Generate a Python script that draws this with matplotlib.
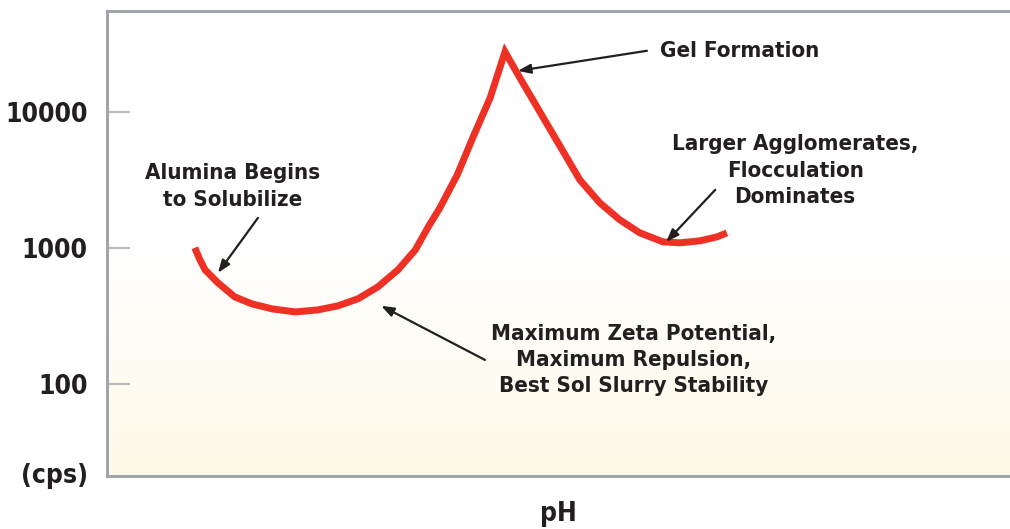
import numpy as np
import matplotlib.pyplot as plt
from matplotlib import font_manager as fm
from matplotlib.colors import LinearSegmentedColormap

# pick a narrow bold face if one is installed
faces = {(f.name, f.stretch) for f in fm.fontManager.ttflist}
names = {f.name for f in fm.fontManager.ttflist}
if 'Liberation Sans Narrow' in names:
    fam, stretch = 'Liberation Sans Narrow', 'normal'
elif ('DejaVu Sans', 'condensed') in faces:
    fam, stretch = 'DejaVu Sans', 'condensed'
else:
    fam, stretch = 'Liberation Sans', 'normal'
plt.rcParams['font.family'] = [fam, 'DejaVu Sans']
plt.rcParams['font.stretch'] = stretch
plt.rcParams['font.weight'] = 'bold'

# viscosity curve (pH, cps)
ph = [1.36, 1.44, 1.52, 1.72, 1.98, 2.25, 2.56, 2.92, 3.27, 3.58, 3.89, 4.20, 4.51,
      4.78, 4.98, 5.16, 5.43, 5.67, 5.94, 6.17, 6.40, 6.71, 7.02, 7.33, 7.64,
      7.95, 8.26, 8.62, 8.88, 9.19, 9.46, 9.61]
cps = [1000, 816, 689, 553, 436, 387, 356, 338, 350, 375, 422, 517, 689,
       967, 1427, 1968, 3443, 6440, 12680, 27620, 17780, 10000, 5623, 3162, 2143,
       1607, 1289, 1107, 1089, 1126, 1205, 1289]

yticks = [100, 1000, 10000]
ytick_labels = ['100', '1000', '10000']

# annotation texts, text anchor, arrow tail, arrow head
notes = ['Gel Formation',
         'Alumina Begins\nto Solubilize',
         'Larger Agglomerates,\nFlocculation\nDominates',
         'Maximum Zeta Potential,\nMaximum Repulsion,\nBest Sol Slurry Stability']
note_xy = [(9.81, 28100), (1.94, 2832), (10.67, 3683), (8.17, 150)]
arrow_tail = [(8.37, 28100), (2.34, 1662), (9.43, 2670), (5.86, 150)]
arrow_head = [(6.37, 20000), (1.72, 655), (8.67, 1107), (4.25, 375)]

fig = plt.figure(figsize=(10.1, 5.29), dpi=100)
ax = fig.add_axes([0.106, 0.100, 0.894, 0.879])

# background: white at top fading to cream at the bottom
cmap = LinearSegmentedColormap.from_list('bg', [(0, '#fef9e8'), (0.5, '#ffffff'), (1, '#ffffff')])
grad = np.linspace(0, 1, 256).reshape(-1, 1)
ax.imshow(grad, cmap=cmap, aspect='auto', origin='lower',
          extent=[0, 1, 0, 1], transform=ax.transAxes, zorder=0)

ax.plot(ph, cps, color='#ee3124', lw=5, solid_joinstyle='miter',
        solid_capstyle='butt', zorder=3)

for t, xy, tail, head in zip(notes, note_xy, arrow_tail, arrow_head):
    ax.text(xy[0], xy[1], t, ha='center', va='center', fontsize=16,
            fontweight='bold', color='#231f20', linespacing=1.4, zorder=4)
    ax.annotate('', xy=head, xytext=tail,
                arrowprops=dict(arrowstyle='-|>,head_length=0.75,head_width=0.28',
                                color='#231f20', lw=1.6, shrinkA=0, shrinkB=0),
                zorder=4)

ax.set_yscale('log')
ax.set_xlim(0, 14)
ax.set_ylim(21, 55000)
ax.set_yticks(yticks)
ax.set_yticklabels(ytick_labels)
ax.minorticks_off()
ax.set_xticks([])
ax.tick_params(axis='y', direction='in', length=16.5, width=1.6, color='#b9bdc0',
               pad=14, labelsize=19, labelcolor='#231f20')
ax.set_xlabel('pH', fontsize=19, fontweight='bold', color='#231f20', labelpad=18)
ax.text(-0.021, 0.0, '(cps)', transform=ax.transAxes, ha='right', va='center',
        fontsize=19, fontweight='bold', color='#231f20')

for s in ax.spines.values():
    s.set_color('#9aa0a6')
    s.set_linewidth(2)
ax.spines['right'].set_visible(False)

fig.savefig('out.png', dpi=100)
